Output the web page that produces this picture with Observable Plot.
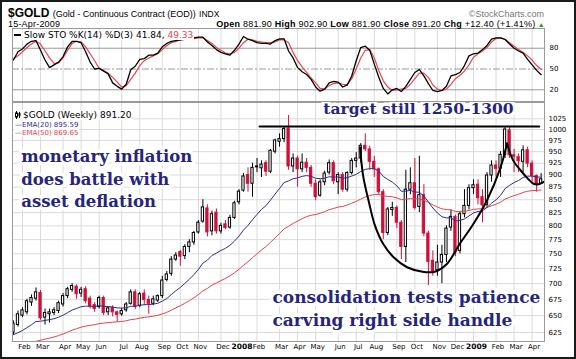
<!DOCTYPE html>
<html><head><meta charset="utf-8">
<script src="https://cdn.jsdelivr.net/npm/d3@7"></script>
<script src="https://cdn.jsdelivr.net/npm/@observablehq/plot@0.6"></script>
<style>
body{margin:0;background:#fff;}
#chart{position:relative;width:576px;height:359px;overflow:hidden;background:#fff;font-family:"Liberation Sans",Arial,sans-serif;color:#000;}
#border{position:absolute;left:0;top:0;width:576px;height:359px;box-sizing:border-box;border:2px solid #1a1a1a;z-index:20;pointer-events:none;}
.abs{position:absolute;white-space:nowrap;z-index:10;}
.lg{font-family:"DejaVu Sans",Verdana,sans-serif;background:#fff;}
</style></head>
<body><div id="chart"><div id="border"></div></div>
<script>
// ---------------- data ----------------
const weekStart = "2007-01-19"; // first weekly bar (Friday)
const opens = [
625,636,650,655,670,676,685,647,652,654,
657,667,680,690,695,684,691,676,666,663,
677,655,662,655,652,658,668,686,665,684,
674,668,673,680,706,716,740,753,746,762,
770,788,808,833,790,825,790,803,797,815,
845,868,900,882,918,914,925,907,950,972,
978,1002,918,935,912,926,915,882,858,885,
905,925,885,900,870,904,930,935,963,955,
928,912,865,787,830,834,806,762,870,883,
836,859,786,738,722,735,748,797,817,755,
822,838,873,880,855,840,899,920,913,943,
998,942,938,928,953,924,898,881.9];
const highs = [
642,657,662,675,682,693,689,660,660,662,
672,684,694,700,698,694,695,680,670,680,
680,664,665,657,661,670,690,690,686,690,
680,680,682,712,720,745,752,756,766,775,
790,810,850,840,828,832,805,810,820,847,
870,903,915,925,935,930,930,955,978,990,
1005,1033,945,940,945,935,920,890,890,908,
932,930,905,905,907,935,948,968,990,962,
940,915,870,835,845,838,810,910,915,935,
940,880,790,755,765,765,800,830,820,826,
870,880,890,890,870,905,930,930,950,1007,
1006,955,945,963,960,930,900,902.9];
const lows = [
621,633,647,651,664,672,643,636,639,650,
653,663,676,686,675,678,668,660,655,660,
650,650,648,640,649,655,666,659,662,665,
652,665,670,676,703,712,737,729,740,752,
765,785,805,780,782,785,785,793,794,812,
840,865,865,855,905,895,897,903,945,960,
970,910,905,875,905,905,875,848,855,878,
900,880,860,865,865,900,915,925,950,910,
895,860,775,782,818,795,740,735,860,830,
825,780,697,712,712,700,735,790,745,750,
815,830,860,840,806,835,885,895,895,935,
935,905,905,905,915,885,865,881.9];
const closes = [
638,652,658,672,677,686,646,654,655,658,
669,680,691,696,683,690,672,664,660,677,
654,661,655,651,657,667,686,663,683,674,
668,675,680,705,715,740,747,745,762,770,
787,806,835,788,822,790,800,796,815,843,
866,897,882,915,916,922,907,952,975,978,
1001,918,935,912,926,915,882,855,885,903,
925,887,900,870,904,930,935,963,955,928,
912,865,787,831,834,806,762,870,883,834,
859,786,736,720,735,748,795,817,752,822,
838,873,879,853,839,899,920,913,943,1000,
942,939,929,953,924,898,880,891.2];
const stochK = [
63,75,79,86,90,91,77,63,52,56,
60,68,82,90,90,88,75,60,50,51,
47,43,30,25,21,28,49,54,64,65,
70,70,73,82,87,90,91,92,93,94,
95,96,96,89,84,78,74,72,70,77,
86,97,93,91,88,87,87,86,91,93.6,
93.6,76,66,52,46,42,35,24,18,21,
30,32,31,24,27,40,62,81,83,77,
57,38,22,14,20,22,17.5,25,35,45,
49.3,40,29,19,17.5,19,25,40,42,45,
55,69,72,73,78,84,93,95,95,92.6,
86,80,76,73,64,56,48,41.84];
const stochD = [
65,69,75,81,86,90,86,76,66,58,
59,66,77,87,90,89,82,72,62,51,
48,44,38,31,24,26,35,44,55,62,
66,69,72,78,84,88,90,92,93,94,
94,95,95,91,87,81,77,73,72,74,
80,88,93,92,90,89,88,88,89,92,
92,88,74,62,53,45,37,30,22,21,
26,29,30,28,27,36,50,66,77,78,
66,48,33,24,19,20,21,22,28,36,
44,44,38,27,21,19,21,28,36,41,
47,56,67,72,76,81,89,94,95,93,
88,83,78,74,69,63,55,49.33];
const priceTicks = [625,650,675,700,725,750,775,800,825,850,875,900,925,950,975,1000,1025];
const stochTicks = [20,50,80];
const ema20Start = 622;   // EMA(20) value at first visible bar
const ema50Start = 600;   // EMA(50) value at first visible bar
const targetDates = ["2008-02-05","2009-04-14"];
const targetPrices = [1007,1007];
const cupDates = ["2008-07-10","2008-07-15","2008-07-23","2008-08-02","2008-08-15","2008-08-31","2008-09-21","2008-10-17","2008-11-04","2008-11-22","2008-12-12","2009-01-02","2009-01-23","2009-02-13","2009-02-23"];
const cupPrices = [959,896,849,801,767,744,727,719,720,733,768,804,849,916,968];
const handleDates = ["2009-02-23","2009-03-05","2009-03-16","2009-03-27","2009-04-05","2009-04-13","2009-04-21"];
const handlePrices = [968,930,910,893,882,881,886];
const noteLabels = ["monetary inflation","does battle with","asset deflation"];
const noteDates = ["2007-01-31","2007-01-31","2007-01-31"];
const notePrices = [938,891,847];
const targetLabel = "target still 1250-1300";
const targetLabelDate = "2008-05-14", targetLabelPrice = 1049;
const bottomLabels = ["consolidation tests patience","carving right side handle"];
const bottomDates = ["2008-02-25","2008-02-25"];
const bottomPrices = [678,643];

// ---------------- build tables ----------------
const DAY = 864e5;
const t0 = Date.parse(weekStart);
const weeks = closes.map((c, i) => {
  const prev = i > 0 ? closes[i-1] : opens[0];
  return {date: new Date(t0 + i*7*DAY), open: opens[i], high: highs[i], low: lows[i], close: c,
    hollow: c >= opens[i], col: c >= prev ? "#000" : "#d0103a", k: stochK[i], d: stochD[i]};
});
let e20 = ema20Start, e50 = ema50Start;
weeks.forEach((w, i) => {
  if (i > 0) { e20 += (2/21)*(w.close - e20); e50 += (2/51)*(w.close - e50); }
  w.ema20 = e20; w.ema50 = e50;
});
const monthTicks = [];
weeks.forEach((w, i) => {
  if (i > 0 && w.date.getUTCMonth() !== weeks[i-1].date.getUTCMonth()) {
    const jan = w.date.getUTCMonth() === 0;
    monthTicks.push({date: w.date, label: jan ? String(w.date.getUTCFullYear()) : d3.utcFormat("%b")(w.date), year: jan});
  }
});
const pt = (ds, ps) => ds.map((d, i) => ({date: new Date(d), price: ps[i]}));
const cup = pt(cupDates, cupPrices), handle = pt(handleDates, handlePrices), target = pt(targetDates, targetPrices);
const notes = noteLabels.map((t, i) => ({text: t, date: new Date(noteDates[i]), price: notePrices[i]}));
const bnotes = bottomLabels.map((t, i) => ({text: t, date: new Date(bottomDates[i]), price: bottomPrices[i]}));

const xDomain = [new Date(Date.UTC(2007,0,17,12)), new Date(Date.UTC(2009,3,22,5))];
const baseStyle = {fontFamily: "DejaVu Sans, Verdana, sans-serif", fontSize: "7px", background: "transparent", overflow: "visible", color: "#000"};
const grid = "#dadada";
const annoStyle = {fontFamily: "DejaVu Serif, serif", fontWeight: "bold", fill: "#25257f", stroke: "white", strokeWidth: 7, strokeLinejoin: "round", textAnchor: "start"};

// ---------------- stochastic panel ----------------
const stoch = Plot.plot({
  width: 576, height: 75, marginLeft: 12, marginRight: 32, marginTop: 1, marginBottom: 1,
  style: baseStyle,
  x: {type: "utc", domain: xDomain, axis: null},
  y: {domain: [3.1, 108.5], axis: null},
  marks: [
    Plot.ruleX(monthTicks, {x: "date", stroke: grid}),
    Plot.ruleY([80, 20], {stroke: "#9a9a9a", strokeWidth: 1}),
    Plot.ruleY([50], {stroke: "#9a9a9a", strokeDasharray: "7,2,2,2"}),
    Plot.line(weeks, {x: "date", y: "d", stroke: "#e8454f", strokeWidth: 1.2, clip: true}),
    Plot.line(weeks, {x: "date", y: "k", stroke: "#000", strokeWidth: 1.3, clip: true}),
    Plot.text(stochTicks, {y: d => d, text: d => String(d), frameAnchor: "right", textAnchor: "start", dx: 5, fontSize: 7}),
    Plot.frame({stroke: "#9a9a9a"})
  ]
});
stoch.style.position = "absolute"; stoch.style.left = "0px"; stoch.style.top = "27px";

// ---------------- price panel ----------------
const price = Plot.plot({
  width: 576, height: 258, marginLeft: 12, marginRight: 32, marginTop: 1, marginBottom: 18,
  style: baseStyle,
  x: {type: "utc", domain: xDomain, axis: null},
  y: {type: "log", domain: [612.2, 1064.5], axis: null},
  marks: [
    Plot.ruleY(priceTicks, {stroke: grid}),
    Plot.ruleX(monthTicks, {x: "date", stroke: grid}),
    Plot.ruleX(weeks, {x: "date", y1: "low", y2: "high", stroke: "col", strokeWidth: 1, clip: true}),
    Plot.rect(weeks, {x1: d => new Date(+d.date - 1.75*DAY), x2: d => new Date(+d.date + 1.75*DAY),
      y1: "open", y2: "close", fill: d => d.hollow ? "#fff" : d.col, stroke: "col", strokeWidth: 1, clip: true}),
    Plot.line(weeks, {x: "date", y: "ema50", stroke: "#e8434b", strokeWidth: 1, clip: true}),
    Plot.line(weeks, {x: "date", y: "ema20", stroke: "#2e2e92", strokeWidth: 1, clip: true}),
    Plot.line(target, {x: "date", y: "price", stroke: "#000", strokeWidth: 2}),
    Plot.line(cup, {x: "date", y: "price", stroke: "#000", strokeWidth: 2, curve: "catmull-rom"}),
    Plot.line(handle, {x: "date", y: "price", stroke: "#000", strokeWidth: 2, curve: "catmull-rom"}),
    Plot.text(priceTicks, {y: d => d, text: d => String(d), frameAnchor: "right", textAnchor: "start", dx: 4, fontSize: 7}),
    Plot.text(monthTicks.filter(d => !d.year), {x: "date", text: "label", frameAnchor: "bottom", dy: 7, dx: 2, fontSize: 7}),
    Plot.text(monthTicks.filter(d => d.year), {x: "date", text: "label", frameAnchor: "bottom", dy: 7, dx: 3, fontSize: 7.5, fontWeight: "bold"}),
    Plot.frame({stroke: "#9a9a9a"}),
    Plot.text(notes, {x: "date", y: "price", text: "text", fontSize: 16.5, ...annoStyle}),
    Plot.text([targetLabel], {x: () => new Date(targetLabelDate), y: () => targetLabelPrice, text: d => d, fontSize: 15.5, ...annoStyle}),
    Plot.text(bnotes, {x: "date", y: "price", text: "text", fontSize: 17, ...annoStyle})
  ]
});
price.style.position = "absolute"; price.style.left = "0px"; price.style.top = "101px";

const chart = document.getElementById("chart");
chart.appendChild(price);
chart.appendChild(stoch);

// ---------------- header & legends ----------------
function add(html, css) { const d = document.createElement("div"); d.className = "abs"; d.innerHTML = html; Object.assign(d.style, css); chart.appendChild(d); return d; }
add('<span style="font-size:12px;font-weight:bold">$GOLD</span> <span style="font-size:9px">(Gold - Continuous Contract (EOD))</span> <span style="font-size:8.5px">INDX</span>',
  {left: "8px", top: "6.5px", lineHeight: "12px", fontSize: "12px"});
add('<span style="font-size:9px;color:#777">&copy;StockCharts.com</span>', {right: "32px", top: "6.5px", lineHeight: "12px", fontSize: "12px"});
add('15-Apr-2009', {left: "8px", top: "19.7px", lineHeight: "9px", fontSize: "9px", letterSpacing: "0.2px"});
add('<b>Open</b> 881.90 <b>High</b> 902.90 <b>Low</b> 881.90 <b>Close</b> 891.20 <b>Chg</b> +12.40 (+1.41%)<span style="color:#2a9a2a;font-size:7px"> &#9650;</span>',
  {right: "31px", top: "19.7px", lineHeight: "9px", fontSize: "9px", letterSpacing: "0.25px"});
add('<span style="display:inline-block;width:7px;height:2px;background:#000;vertical-align:middle;margin-right:3px"></span>Slow STO %K(14) %D(3) 41.84, <span style="color:#e8454f">49.33</span>',
  {left: "13px", top: "29.5px", lineHeight: "10px", fontSize: "9px", padding: "0 1px"}).classList.add("lg");
add('<svg width="6" height="8" style="vertical-align:-1px;margin-right:2px"><line x1="1.5" y1="0" x2="1.5" y2="8" stroke="#000"/><rect x="0.5" y="2" width="2" height="4" fill="#fff" stroke="#000"/><line x1="4.5" y1="1" x2="4.5" y2="7" stroke="#000"/><rect x="3.5" y="2" width="2" height="3" fill="#000"/></svg>$GOLD (Weekly) 891.20',
  {left: "14px", top: "110.2px", lineHeight: "10px", fontSize: "9px", padding: "0 1px"}).classList.add("lg");
add('<span style="color:#2e2e92">&#8212;EMA(20) 895.59</span>', {left: "14px", top: "121px", lineHeight: "8px", fontSize: "7px", padding: "0 1px"}).classList.add("lg");
add('<span style="color:#e8434b">&#8212;EMA(50) 869.65</span>', {left: "14px", top: "128.5px", lineHeight: "8px", fontSize: "7px", padding: "0 1px"}).classList.add("lg");
</script>
</body></html>
